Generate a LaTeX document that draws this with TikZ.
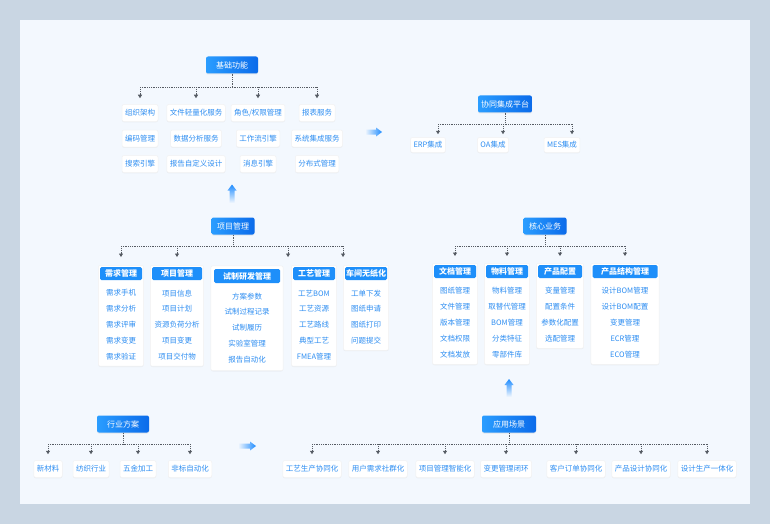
\documentclass[tikz,border=0pt]{standalone}
\usepackage{fontspec}
\setmainfont{Noto Sans CJK SC}
\usetikzlibrary{arrows.meta,positioning,fit,backgrounds,shadows}
\definecolor{pagegray}{HTML}{C9D6E3}
\definecolor{sheetblue}{HTML}{F3F8FE}
\definecolor{hubleft}{HTML}{2A9DFF}
\definecolor{hubright}{HTML}{0B6BEA}
\definecolor{headblue}{HTML}{1E8FFA}
\definecolor{leafblue}{HTML}{2E8EF2}
\definecolor{flowblue}{HTML}{1E8CFF}
\definecolor{linkgray}{HTML}{555B63}
\newcommand\hubfont{\fontsize{8}{10}\selectfont}
\newcommand\leaffont{\fontsize{7.5}{9}\selectfont}

\begin{document}
\begin{tikzpicture}[x=1pt, y=-1pt,
    hub/.style={rounded corners=2pt, left color=hubleft, right color=hubright, text=white, font=\hubfont, minimum width=#1, minimum height=17pt, inner sep=0pt, drop shadow={shadow xshift=0pt, shadow yshift=-1pt, opacity=0.15}},
    hub/.default=52pt,
    leaf/.style={rounded corners=2pt, fill=white, draw=black!5, line width=0.5pt, text=leafblue, font=\leaffont, minimum height=17pt, inner xsep=3pt, inner ysep=0pt, drop shadow={shadow xshift=0pt, shadow yshift=-0.8pt, opacity=0.08}},
    panel/.style={rounded corners=2pt, fill=white, draw=black!5, line width=0.5pt, inner sep=1.5pt, drop shadow={shadow xshift=0pt, shadow yshift=-0.8pt, opacity=0.08}},
    panelhead/.style={rounded corners=1.5pt, fill=headblue, text=white, font=\hubfont\bfseries, minimum width=#1, minimum height=13pt, inner sep=0pt},
    panelhead/.default=42pt,
    entry/.style={text=leafblue, font=\leaffont, minimum height=15.5pt, inner sep=0pt},
    link/.style={densely dotted, draw=linkgray, line width=0.8pt},
    tip/.style={-{Triangle[length=3.5pt,width=4pt]}, shorten >=#1},
    tip/.default=6pt
]
\useasboundingbox (0,0) rectangle (770,524);

% Basic functions
\node[hub] (base) at (232,65) {基础功能};
\node[leaf] (org) at (140,113) {组织架构};
\node[leaf, below=8pt of org] (code) {编码管理};
\node[leaf, below=8pt of code] (search) {搜索引擎};
\node[leaf] (file) at (196,113) {文件轻量化服务};
\node[leaf, below=8pt of file] (data) {数据分析服务};
\node[leaf, below=8pt of data] (custom) {报告自定义设计};
\node[leaf] (role) at (258,113) {角色/权限管理};
\node[leaf, below=8pt of role] (wflow) {工作流引擎};
\node[leaf, below=8pt of wflow] (msg) {消息引擎};
\node[leaf] (tab) at (317,113) {报表服务};
\node[leaf, below=8pt of tab] (sysint) {系统集成服务};
\node[leaf, below=8pt of sysint] (dist) {分布式管理};

% Integration platform
\node[hub=54pt] (plat) at (505,104) {协同集成平台};
\node[leaf, minimum height=15pt] (erp) at (428,145) {ERP集成};
\node[leaf, minimum height=15pt] (oa) at (493,145) {OA集成};
\node[leaf, minimum height=15pt] (mes) at (562,145) {MES集成};

% Project management
\node[hub=43pt] (proj) at (233,226) {项目管理};
\node[panelhead] (needHead) at (121,273.5) {需求管理};
\node[entry, below=5pt of needHead] (need1) {需求手机};
\node[entry, below=0pt of need1] (need2) {需求分析};
\node[entry, below=0pt of need2] (need3) {需求评审};
\node[entry, below=0pt of need3] (need4) {需求变更};
\node[entry, below=0pt of need4] (need5) {需求验证};
\node[panelhead=50pt] (planHead) at (177,273.5) {项目管理};
\node[entry, below=5pt of planHead] (plan1) {项目信息};
\node[entry, below=0pt of plan1] (plan2) {项目计划};
\node[entry, below=0pt of plan2] (plan3) {资源负荷分析};
\node[entry, below=0pt of plan3] (plan4) {项目变更};
\node[entry, below=0pt of plan4] (plan5) {项目交付物};
\node[panelhead=66pt, minimum height=14pt] (trialHead) at (247,276) {试制研发管理};
\node[entry, below=5pt of trialHead] (trial1) {方案参数};
\node[entry, below=0pt of trial1] (trial2) {试制过程记录};
\node[entry, below=0pt of trial2] (trial3) {试制履历};
\node[entry, below=0pt of trial3] (trial4) {实验室管理};
\node[entry, below=0pt of trial4] (trial5) {报告自动化};
\node[panelhead] (craftHead) at (314,273.5) {工艺管理};
\node[entry, below=5pt of craftHead] (craft1) {工艺BOM};
\node[entry, below=0pt of craft1] (craft2) {工艺资源};
\node[entry, below=0pt of craft2] (craft3) {工艺路线};
\node[entry, below=0pt of craft3] (craft4) {典型工艺};
\node[entry, below=0pt of craft4] (craft5) {FMEA管理};
\node[panelhead] (shopHead) at (366,273.5) {车间无纸化};
\node[entry, below=5pt of shopHead] (shop1) {工单下发};
\node[entry, below=0pt of shop1] (shop2) {图纸申请};
\node[entry, below=0pt of shop2] (shop3) {图纸打印};
\node[entry, below=0pt of shop3] (shop4) {问题提交};

% Core business
\node[hub=43pt] (core) at (545,226) {核心业务};
\node[panelhead] (docHead) at (455,271.5) {文档管理};
\node[entry, minimum height=15.75pt, below=4pt of docHead] (doc1) {图纸管理};
\node[entry, minimum height=15.75pt, below=0pt of doc1] (doc2) {文件管理};
\node[entry, minimum height=15.75pt, below=0pt of doc2] (doc3) {版本管理};
\node[entry, minimum height=15.75pt, below=0pt of doc3] (doc4) {文档权限};
\node[entry, minimum height=15.75pt, below=0pt of doc4] (doc5) {文档发放};
\node[panelhead] (matHead) at (507,271.5) {物料管理};
\node[entry, minimum height=15.75pt, below=4pt of matHead] (mat1) {物料管理};
\node[entry, minimum height=15.75pt, below=0pt of mat1] (mat2) {取替代管理};
\node[entry, minimum height=15.75pt, below=0pt of mat2] (mat3) {BOM管理};
\node[entry, minimum height=15.75pt, below=0pt of mat3] (mat4) {分类特征};
\node[entry, minimum height=15.75pt, below=0pt of mat4] (mat5) {零部件库};
\node[panelhead=44pt] (cfgHead) at (560,271.5) {产品配置};
\node[entry, minimum height=15.75pt, below=4pt of cfgHead] (cfg1) {变量管理};
\node[entry, minimum height=15.75pt, below=0pt of cfg1] (cfg2) {配置条件};
\node[entry, minimum height=15.75pt, below=0pt of cfg2] (cfg3) {参数化配置};
\node[entry, minimum height=15.75pt, below=0pt of cfg3] (cfg4) {选配管理};
\node[panelhead=65pt] (structHead) at (625,271.5) {产品结构管理};
\node[entry, minimum height=15.75pt, below=4pt of structHead] (struct1) {设计BOM管理};
\node[entry, minimum height=15.75pt, below=0pt of struct1] (struct2) {设计BOM配置};
\node[entry, minimum height=15.75pt, below=0pt of struct2] (struct3) {变更管理};
\node[entry, minimum height=15.75pt, below=0pt of struct3] (struct4) {ECR管理};
\node[entry, minimum height=15.75pt, below=0pt of struct4] (struct5) {ECO管理};

% Industry solutions
\node[hub] (ind) at (123,424) {行业方案};
\node[leaf] (newmat) at (48,469) {新材料};
\node[leaf] (textile) at (91,469) {纺织行业};
\node[leaf] (metal) at (138,469) {五金加工};
\node[leaf] (auto) at (190,469) {非标自动化};

% Application scenarios
\node[hub=54pt] (app) at (509,424) {应用场景};
\node[leaf] (sc1) at (312,469) {工艺生产协同化};
\node[leaf] (sc2) at (378,469) {用户需求社群化};
\node[leaf] (sc3) at (445,469) {项目管理智能化};
\node[leaf] (sc4) at (506,469) {变更管理闭环};
\node[leaf] (sc5) at (576,469) {客户订单协同化};
\node[leaf] (sc6) at (641,469) {产品设计协同化};
\node[leaf] (sc7) at (707,469) {设计生产一体化};

% Page and panels behind
\begin{scope}[on background layer]
\fill[pagegray] (0,0) rectangle (770,524);
\fill[sheetblue] (20,20) rectangle (750,504);
\node[panel, fit=(needHead)(need5)] (needBox) {};
\node[panel, fit=(planHead)(plan5)] (planBox) {};
\node[panel, inner sep=3pt, fit=(trialHead)(trial5)] (trialBox) {};
\node[panel, fit=(craftHead)(craft5)] (craftBox) {};
\node[panel, fit=(shopHead)(shop4)] (shopBox) {};
\node[panel, fit=(docHead)(doc5)] (docBox) {};
\node[panel, fit=(matHead)(mat5)] (matBox) {};
\node[panel, fit=(cfgHead)(cfg4)] (cfgBox) {};
\node[panel, fit=(structHead)(struct5)] (structBox) {};
\end{scope}

% Dotted trees
\draw[link] (base.south) -- ++(0,13.5) coordinate (baseBar);
\draw[link] (baseBar -| org.north) -- (baseBar -| tab.north);
\draw[link, tip] (baseBar -| org.north) -- (org.north);
\draw[link, tip] (baseBar -| file.north) -- (file.north);
\draw[link, tip] (baseBar -| role.north) -- (role.north);
\draw[link, tip] (baseBar -| tab.north) -- (tab.north);

\coordinate (erpIn) at ([xshift=10pt]erp.north);
\coordinate (oaIn) at ([xshift=10pt]oa.north);
\coordinate (mesIn) at ([xshift=10pt]mes.north);
\draw[link] (plat.south) -- ++(0,11.5) coordinate (platBar);
\draw[link] (platBar -| erpIn) -- (platBar -| mesIn);
\draw[link, tip=3pt] (platBar -| erpIn) -- (erpIn);
\draw[link, tip=3pt] (platBar -| oaIn) -- (oaIn);
\draw[link, tip=3pt] (platBar -| mesIn) -- (mesIn);

\coordinate (craftIn) at ([xshift=-3pt]craftBox.north west);
\draw[link] (proj.south) -- ++(0,11.5) coordinate (projBar);
\draw[link] (projBar -| needBox.north) -- (projBar -| shopBox.north west);
\draw[link, tip=8pt] (projBar -| needBox.north) -- (needBox.north);
\draw[link, tip=8pt] (projBar -| planBox.north) -- (planBox.north);
\draw[link, tip=8pt] (projBar -| craftIn) -- (craftIn);
\draw[link, tip=8pt] (projBar -| shopBox.north west) -- (shopBox.north west);

\draw[link] (core.south) -- ++(0,11.5) coordinate (coreBar);
\draw[link] (coreBar -| docBox.north) -- (coreBar -| structBox.north);
\draw[link, tip=7pt] (coreBar -| docBox.north) -- (docBox.north);
\draw[link, tip=7pt] (coreBar -| matBox.north) -- (matBox.north);
\draw[link, tip=7pt] (coreBar -| cfgBox.north) -- (cfgBox.north);
\draw[link, tip=7pt] (coreBar -| structBox.north) -- (structBox.north);

\draw[link] (ind.south) -- ++(0,11.5) coordinate (indBar);
\draw[link] (indBar -| newmat.north) -- (indBar -| auto.north);
\draw[link, tip] (indBar -| newmat.north) -- (newmat.north);
\draw[link, tip] (indBar -| textile.north) -- (textile.north);
\draw[link, tip] (indBar -| metal.north) -- (metal.north);
\draw[link, tip] (indBar -| auto.north) -- (auto.north);

\draw[link] (app.south) -- ++(0,11.5) coordinate (appBar);
\draw[link] (appBar -| sc1.north) -- (appBar -| sc7.north);
\draw[link, tip] (appBar -| sc1.north) -- (sc1.north);
\draw[link, tip] (appBar -| sc2.north) -- (sc2.north);
\draw[link, tip] (appBar -| sc3.north) -- (sc3.north);
\draw[link, tip] (appBar -| sc4.north) -- (sc4.north);
\draw[link, tip] (appBar -| sc5.north) -- (sc5.north);
\draw[link, tip] (appBar -| sc6.north) -- (sc6.north);
\draw[link, tip] (appBar -| sc7.north) -- (sc7.north);

% Big flow arrows
\shade[left color=sheetblue, right color=flowblue] (365,129.5) -- (376,129.5) -- (376,127.5) -- (382,132) -- (376,136.5) -- (376,134.5) -- (365,134.5) -- cycle;
\shade[left color=sheetblue, right color=flowblue] (238,443.5) -- (250,443.5) -- (250,441.5) -- (256,446) -- (250,450.5) -- (250,448.5) -- (238,448.5) -- cycle;
\shade[bottom color=sheetblue, top color=flowblue] (229.5,203) -- (229.5,190.5) -- (227.5,190.5) -- (232,184.5) -- (236.5,190.5) -- (234.5,190.5) -- (234.5,203) -- cycle;
\shade[bottom color=sheetblue, top color=flowblue] (506.5,397) -- (506.5,385) -- (504.5,385) -- (509,379) -- (513.5,385) -- (511.5,385) -- (511.5,397) -- cycle;

\end{tikzpicture}
\end{document}
